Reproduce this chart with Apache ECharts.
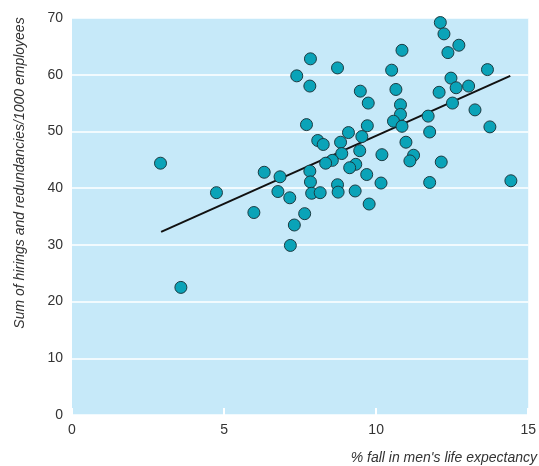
<!DOCTYPE html>
<html>
<head>
<meta charset="utf-8">
<script src="https://cdn.jsdelivr.net/npm/echarts@6/dist/echarts.min.js"></script>
<style>
  html, body { margin: 0; padding: 0; background: #fff; }
  #chart { width: 539px; height: 466px; }
</style>
</head>
<body>
<div id="chart"></div>
<script>
// % fall in men's life expectancy (x) and hirings+redundancies per 1000 (y)
var lifeFall = [
  12.11, 12.23, 12.72, 12.36, 10.85, 7.84, 8.73, 10.51, 13.66, 7.39,
  7.82, 12.46, 12.63, 13.04, 12.07, 9.48, 10.65, 9.74, 12.51, 10.80,
  10.80, 13.25, 10.57, 10.85, 11.71, 11.76, 13.74, 7.71, 9.71, 9.09,
  9.53, 8.08, 8.26, 8.83, 8.87, 9.46, 8.56, 8.34, 10.19, 10.98,
  11.23, 11.11, 12.14, 9.33, 9.13, 9.69, 7.82, 7.84, 8.73, 8.75,
  9.31, 7.88, 8.16, 10.16, 11.76, 14.43, 9.77, 7.65, 2.91, 6.32,
  6.84, 4.75, 6.77, 7.16, 5.98, 7.31, 7.18, 3.58
];
var turnover = [
  69.2, 67.2, 65.2, 63.9, 64.3, 62.8, 61.2, 60.8, 60.9, 59.8,
  58.0, 59.4, 57.7, 58.0, 56.9, 57.1, 57.4, 55.0, 55.0, 54.7,
  53.0, 53.8, 51.8, 50.9, 52.7, 49.9, 50.8, 51.2, 51.0, 49.8,
  49.1, 48.4, 47.7, 48.1, 46.1, 46.6, 44.9, 44.4, 45.9, 48.1,
  45.8, 44.8, 44.6, 44.2, 43.6, 42.4, 43.0, 41.1, 40.6, 39.3,
  39.5, 39.1, 39.2, 40.9, 41.0, 41.3, 37.2, 35.5, 44.4, 42.8,
  42.0, 39.2, 39.4, 38.3, 35.7, 33.5, 29.9, 22.5
];
// fitted line end points
var fitX = [2.93, 14.41];
var fitY = [32.3, 59.8];

var xTicks = [0, 5, 10, 15];
var yTicks = [0, 10, 20, 30, 40, 50, 60, 70];

var points = lifeFall.map(function (x, i) { return [x, turnover[i]]; });
var fitLine = fitX.map(function (x, i) { return [x, fitY[i]]; });

var chart = echarts.init(document.getElementById('chart'), null, { renderer: 'canvas' });

var labelFont = {
  color: '#333',
  fontFamily: '"Liberation Sans Narrow", "Liberation Sans", Arial, sans-serif',
  fontSize: 14
};

var option = {
  animation: false,
  grid: {
    left: 72, right: 7, top: 18, bottom: 51,
    show: true,
    backgroundColor: '#c6e9f9',
    borderWidth: 0
  },
  xAxis: {
    type: 'value',
    min: xTicks[0],
    max: xTicks[xTicks.length - 1],
    interval: 5,
    axisLine: { show: false },
    axisTick: { show: true, inside: true, length: 7, lineStyle: { color: '#fff', width: 2 } },
    splitLine: { show: false },
    axisLabel: Object.assign({ margin: 8 }, labelFont)
  },
  yAxis: {
    type: 'value',
    min: yTicks[0],
    max: yTicks[yTicks.length - 1],
    interval: 10,
    axisLine: { show: false },
    axisTick: { show: false },
    splitLine: { show: true, lineStyle: { color: '#fff', width: 1.5 } },
    axisLabel: Object.assign({ margin: 9 }, labelFont)
  },
  graphic: [
    {
      type: 'text',
      x: 20, y: 173,
      rotation: Math.PI / 2,
      style: {
        text: 'Sum of hirings and redundancies/1000 employees',
        fill: '#333',
        font: 'italic 14px "Liberation Sans Narrow", "Liberation Sans", Arial, sans-serif',
        align: 'center',
        verticalAlign: 'middle'
      }
    },
    {
      type: 'text',
      x: 537, y: 458,
      style: {
        text: "% fall in men's life expectancy",
        fill: '#333',
        font: 'italic 14px "Liberation Sans Narrow", "Liberation Sans", Arial, sans-serif',
        align: 'right',
        verticalAlign: 'middle'
      }
    }
  ],
  series: [
    {
      type: 'line',
      data: fitLine,
      symbol: 'none',
      lineStyle: { color: '#111', width: 2 },
      z: 2
    },
    {
      type: 'scatter',
      data: points,
      symbol: 'circle',
      symbolSize: 12,
      itemStyle: { color: '#0aa3b8', borderColor: '#1c3b42', borderWidth: 1, opacity: 1 },
      z: 3
    }
  ]
};

chart.setOption(option);
</script>
</body>
</html>
